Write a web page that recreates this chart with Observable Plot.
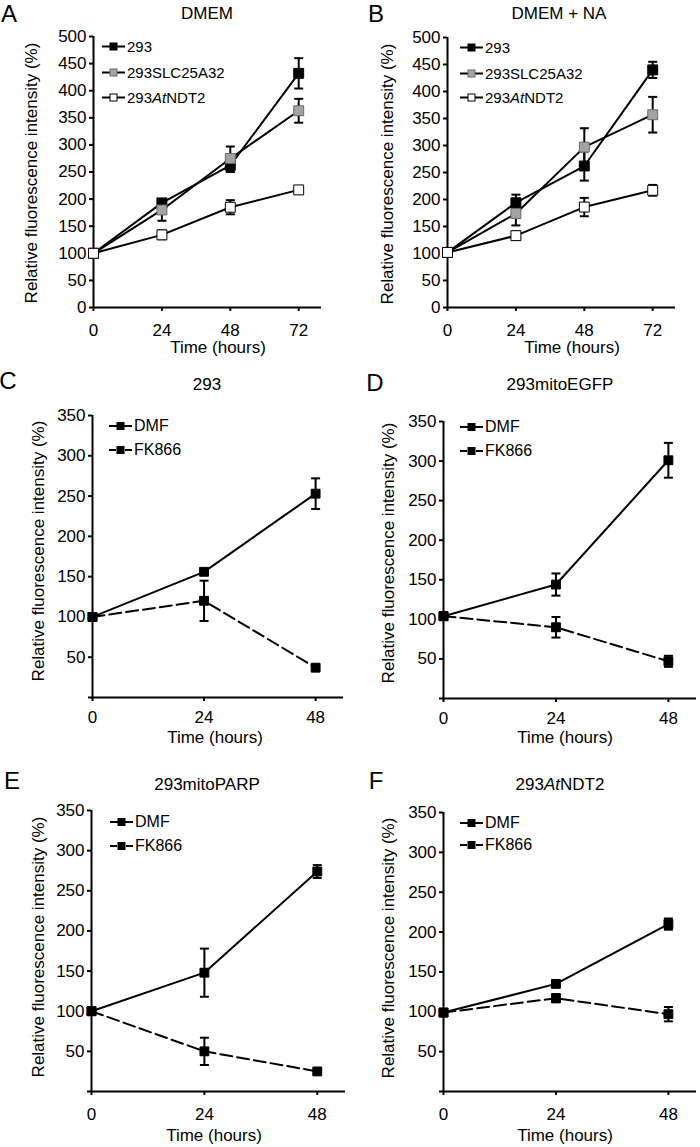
<!DOCTYPE html>
<html><head><meta charset="utf-8">
<script src="https://cdn.jsdelivr.net/npm/d3@7"></script>
<script src="https://cdn.jsdelivr.net/npm/@observablehq/plot@0.6"></script>
<style>
body{margin:0;background:#fff;}
#root{position:relative;width:700px;height:1147px;overflow:hidden;font-family:"Liberation Sans",Arial,sans-serif;color:#000;}
.abs{position:absolute;white-space:nowrap;line-height:0.9;}
.ctr{transform:translate(-50%,-50%);}
.rot{transform:translate(-50%,-50%) rotate(-90deg);}
.letter{line-height:0.8;}
.leg{position:absolute;display:flex;align-items:center;transform:translateY(-50%);white-space:nowrap;line-height:1;}
svg{position:absolute;}
</style></head><body><div id="root"></div>
<script>
// ---------- data ----------
const hoursLong = [0, 24, 48, 72];
const hoursShort = [0, 24, 48];
const cellLines = ["293", "293SLC25A32", "293AtNDT2"];
const treatments = ["DMF", "FK866"];
const ticksAB = [0, 50, 100, 150, 200, 250, 300, 350, 400, 450, 500];
const ticksCF = [0, 50, 100, 150, 200, 250, 300, 350];

// A: DMEM
const dmem_293 = [100, 193, 262, 432];
const dmem_293_err = [0, 6, 12, 28];
const dmem_slc = [100, 180, 275, 363];
const dmem_slc_err = [0, 20, 22, 22];
const dmem_ndt = [100, 134, 185, 217];
const dmem_ndt_err = [0, 8, 13, 4];
// B: DMEM + NA
const na_293 = [102, 194, 262, 440];
const na_293_err = [0, 15, 27, 15];
const na_slc = [102, 174, 297, 357];
const na_slc_err = [0, 22, 35, 33];
const na_ndt = [102, 133, 186, 217];
const na_ndt_err = [0, 8, 17, 10];
// C: 293
const c_dmf = [100, 156, 253];
const c_dmf_err = [0, 3, 19];
const c_fk = [100, 120, 37];
const c_fk_err = [0, 25, 3];
// D: 293mitoEGFP
const d_dmf = [104, 144, 301];
const d_dmf_err = [0, 14, 22];
const d_fk = [104, 90, 47];
const d_fk_err = [0, 13, 7];
// E: 293mitoPARP
const e_dmf = [100, 148, 274];
const e_dmf_err = [0, 30, 8];
const e_fk = [100, 50, 25];
const e_fk_err = [0, 17, 3];
// F: 293AtNDT2
const f_dmf = [99, 135, 210];
const f_dmf_err = [0, 3, 7];
const f_fk = [99, 117, 97];
const f_fk_err = [0, 5, 9];

const panelTitles = ["DMEM", "DMEM + NA", "293", "293mitoEGFP", "293mitoPARP", "293AtNDT2"];
const panelLetters = ["A", "B", "C", "D", "E", "F"];
const yLabel = "Relative fluorescence intensity (%)";
const xLabel = "Time (hours)";

// ---------- styles ----------
const seriesStyle = {
  "293": {fill: "#000", stroke: "#000", dash: null},
  "293SLC25A32": {fill: "#a3a3a3", stroke: "#6a6a6a", dash: null},
  "293AtNDT2": {fill: "#fff", stroke: "#000", dash: null},
  "DMF": {fill: "#000", stroke: "#000", dash: null},
  "FK866": {fill: "#000", stroke: "#000", dash: "12,5"}
};

const panels = [
  {times: hoursLong, xMax: 80, yMax: 500, yTicks: ticksAB, hideZero: false,
   series: [[cellLines[0], dmem_293, dmem_293_err], [cellLines[1], dmem_slc, dmem_slc_err], [cellLines[2], dmem_ndt, dmem_ndt_err]]},
  {times: hoursLong, xMax: 80, yMax: 500, yTicks: ticksAB, hideZero: false,
   series: [[cellLines[0], na_293, na_293_err], [cellLines[1], na_slc, na_slc_err], [cellLines[2], na_ndt, na_ndt_err]]},
  {times: hoursShort, xMax: 54, yMax: 350, yTicks: ticksCF, hideZero: true,
   series: [[treatments[0], c_dmf, c_dmf_err], [treatments[1], c_fk, c_fk_err]]},
  {times: hoursShort, xMax: 54, yMax: 350, yTicks: ticksCF, hideZero: true,
   series: [[treatments[0], d_dmf, d_dmf_err], [treatments[1], d_fk, d_fk_err]]},
  {times: hoursShort, xMax: 54, yMax: 350, yTicks: ticksCF, hideZero: true,
   series: [[treatments[0], e_dmf, e_dmf_err], [treatments[1], e_fk, e_fk_err]]},
  {times: hoursShort, xMax: 54, yMax: 350, yTicks: ticksCF, hideZero: true,
   series: [[treatments[0], f_dmf, f_dmf_err], [treatments[1], f_fk, f_fk_err]]}
];

// ---------- layout (pixels) ----------
const layout = [
  {left: 0,   top: 0,   h: 345, mt: 36, mb: 38, ml: 93, mr: 29, pad: 12, r: 5.6,
   letter: [9, 14], title: [207, 14], ylab: [32, 173], xlab: [218, 348], legX: 102, legY: [46, 72, 97], legFont: 15},
  {left: 350, top: 0,   h: 345, mt: 37, mb: 38, ml: 97, mr: 25, pad: 12, r: 5.6,
   letter: [376, 14], title: [559, 14], ylab: [388, 174], xlab: [572, 348], legX: 460, legY: [47, 73, 97], legFont: 15},
  {left: 0,   top: 370, h: 390, mt: 45, mb: 63, ml: 92, mr: 7, pad: 9, r: 5,
   letter: [8, 381], title: [207, 385], ylab: [39, 551], xlab: [215, 738], legX: 109, legY: [426, 450], legFont: 16},
  {left: 350, top: 370, h: 390, mt: 51, mb: 62, ml: 93, mr: 4, pad: 9, r: 5,
   letter: [375, 383], title: [560, 385], ylab: [389, 553], xlab: [565, 738], legX: 460, legY: [427, 451], legFont: 16},
  {left: 0,   top: 760, h: 387, mt: 50, mb: 56, ml: 91, mr: 5, pad: 12, r: 5,
   letter: [12, 781], title: [207, 785], ylab: [39, 947], xlab: [214, 1136], legX: 110, legY: [822, 846], legFont: 16},
  {left: 350, top: 760, h: 387, mt: 52, mb: 56, ml: 93, mr: 4, pad: 12, r: 5,
   letter: [376, 781], title: [560, 785], ylab: [389, 948], xlab: [565, 1136], legX: 460, legY: [823, 845], legFont: 16}
];

const FONT = '"Liberation Sans", Arial, sans-serif';
const root = document.getElementById("root");

function richText(s) {
  return s.replace("AtNDT2", "<i>At</i>NDT2");
}
function addDiv(cls, x, y, html, size) {
  const d = document.createElement("div");
  d.className = "abs " + cls;
  d.style.left = x + "px";
  d.style.top = y + "px";
  d.style.fontSize = size + "px";
  d.innerHTML = html;
  root.appendChild(d);
  return d;
}

const capSymbol = {
  draw(ctx) { ctx.moveTo(-4.5, 0); ctx.lineTo(4.5, 0); }
};

panels.forEach((p, pi) => {
  const L = layout[pi];
  const rows = [];
  p.series.forEach(([name, vals, errs]) => {
    p.times.forEach((t, i) => rows.push({series: name, t, v: vals[i], e: errs[i]}));
  });
  const withErr = rows.filter(d => d.e > 0);
  const marks = [
    Plot.ruleY([0], {stroke: "#000", strokeWidth: 2}),
    Plot.ruleX([0], {stroke: "#000", strokeWidth: 2}),
    Plot.axisY({ticks: p.yTicks, tickSize: 4, tickPadding: 3, strokeWidth: 2, label: null,
      tickFormat: d => (d === 0 && p.hideZero) ? "" : String(d)}),
    Plot.axisX({ticks: p.times, tickSize: 4, tickPadding: L.pad, strokeWidth: 2, label: null,
      tickFormat: d => String(d)})
  ];
  p.series.forEach(([name]) => {
    const st = seriesStyle[name];
    marks.push(Plot.line(rows.filter(d => d.series === name),
      {x: "t", y: "v", stroke: "#000", strokeWidth: 2, strokeDasharray: st.dash || undefined}));
  });
  marks.push(
    Plot.ruleX(withErr, {x: "t", y1: d => d.v - d.e, y2: d => d.v + d.e, stroke: "#000", strokeWidth: 2}),
    Plot.dot(withErr, {x: "t", y: d => d.v + d.e, symbol: capSymbol, r: 3, fill: "none", stroke: "#000", strokeWidth: 2}),
    Plot.dot(withErr, {x: "t", y: d => d.v - d.e, symbol: capSymbol, r: 3, fill: "none", stroke: "#000", strokeWidth: 2})
  );
  p.series.forEach(([name]) => {
    const st = seriesStyle[name];
    marks.push(Plot.dot(rows.filter(d => d.series === name),
      {x: "t", y: "v", symbol: "square", r: L.r, fill: st.fill, stroke: st.stroke, strokeWidth: 1}));
  });
  const svg = Plot.plot({
    width: 350, height: L.h,
    marginTop: L.mt, marginBottom: L.mb, marginLeft: L.ml, marginRight: L.mr,
    x: {domain: [0, p.xMax]},
    y: {domain: [0, p.yMax]},
    style: {fontFamily: FONT, fontSize: "17px", color: "#000", background: "transparent", overflow: "visible"},
    marks
  });
  svg.style.left = L.left + "px";
  svg.style.top = L.top + "px";
  root.appendChild(svg);

  // texts
  addDiv("ctr letter", L.letter[0], L.letter[1], panelLetters[pi], 24);
  addDiv("ctr", L.title[0], L.title[1], richText(panelTitles[pi]), 17);
  addDiv("rot", L.ylab[0], L.ylab[1], yLabel, 17);
  addDiv("ctr", L.xlab[0], L.xlab[1], xLabel, 17);

  // legend
  p.series.forEach(([name], si) => {
    const st = seriesStyle[name];
    const row = document.createElement("div");
    row.className = "leg";
    row.style.left = L.legX + "px";
    row.style.top = L.legY[si] + "px";
    row.style.fontSize = L.legFont + "px";
    const w = 23, h = 10, m = 7;
    const lineSvg = st.dash
      ? `<line x1="0" y1="${h/2}" x2="7" y2="${h/2}" stroke="#000" stroke-width="2"/>` +
        `<line x1="${w-7}" y1="${h/2}" x2="${w}" y2="${h/2}" stroke="#000" stroke-width="2"/>`
      : `<line x1="0" y1="${h/2}" x2="${w}" y2="${h/2}" stroke="#000" stroke-width="2"/>`;
    row.innerHTML = `<svg width="${w}" height="${h}" style="position:static;overflow:visible;margin-right:2px">${lineSvg}` +
      `<rect x="${(w - m)/2}" y="${(h - m)/2}" width="${m}" height="${m}" fill="${st.fill}" stroke="${st.stroke}" stroke-width="1"/></svg>` +
      `<span>${richText(name)}</span>`;
    root.appendChild(row);
  });
});
</script>
</body></html>
